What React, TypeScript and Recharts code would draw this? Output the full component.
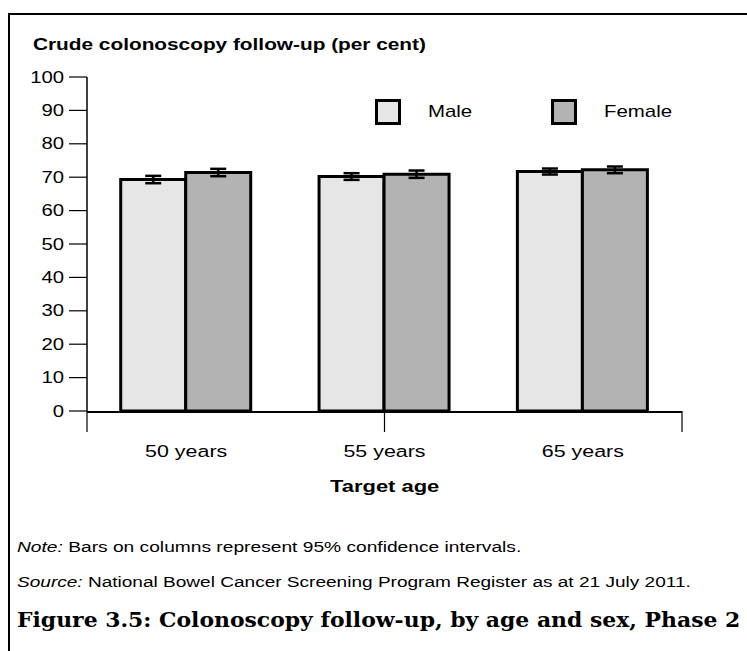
import { Bar, BarChart, ErrorBar, Legend, XAxis, YAxis } from 'recharts'

const categories = ['50 years', '55 years', '65 years']
const male = [69.3, 70.2, 71.7]
const female = [71.4, 70.9, 72.2]
const maleErr = [1.1, 1.0, 0.9]
const femaleErr = [1.1, 1.1, 1.0]
const yTicks = [0, 10, 20, 30, 40, 50, 60, 70, 80, 90, 100]
const boundaryTicks = [0, 1, 2, 3]

const data = categories.map((cat, i) => ({
	cat,
	male: male[i],
	female: female[i],
	maleErr: maleErr[i],
	femaleErr: femaleErr[i],
}))

const sans = '"Liberation Sans", Arial, sans-serif'

// the source figure is set in a wide face, so stretch Arial sideways
const stretch = (k: number) => ({ display: 'inline-block', transform: `scaleX(${k})`, transformOrigin: 'left center' })

const ScaledTick = (props: any) => {
	const { x, y, payload, textAnchor, dy, fontSize, k } = props
	return (
		<g transform={`translate(${x},${y})`}>
			<text
				transform={`scale(${k},1)`}
				textAnchor={textAnchor}
				dy={dy}
				fill="black"
				fontSize={fontSize}
				fontFamily={sans}
			>
				{payload.value}
			</text>
		</g>
	)
}

const LegendBox = () => {
	const items = [
		{ label: 'Male', fill: '#e6e6e6' },
		{ label: 'Female', fill: '#b3b3b3' },
	]
	return (
		<div style={{ display: 'flex', fontFamily: sans, fontSize: 17 }}>
			{items.map((it) => (
				<div key={it.label} style={{ display: 'flex', alignItems: 'center', width: 176, flexShrink: 0 }}>
					<span
						style={{
							display: 'inline-block',
							width: 20,
							height: 20,
							background: it.fill,
							border: '3px solid black',
							marginRight: 27,
						}}
					/>
					<span style={stretch(1.2)}>{it.label}</span>
				</div>
			))}
		</div>
	)
}

const App = () => {
	return (
		<div style={{ position: 'absolute', left: 0, top: 0, width: 747, height: 651, fontFamily: sans, background: 'white', overflow: 'hidden' }}>
			<div style={{ position: 'absolute', left: 8, top: 13, right: 0, bottom: 0, borderLeft: '2px solid black', borderTop: '2px solid black' }} />
			<div style={{ position: 'absolute', left: 33, top: 36, fontSize: 16, fontWeight: 'bold', whiteSpace: 'nowrap' }}>
				<span style={stretch(1.3)}>Crude colonoscopy follow-up (per cent)</span>
			</div>

			<div style={{ position: 'absolute', left: 0, top: 0 }}>
				<BarChart
					width={747}
					height={500}
					data={data}
					margin={{ top: 77, right: 65, left: 0, bottom: 0 }}
					barCategoryGap="17%"
					barGap={0}
				>
					<XAxis
						xAxisId="cat"
						dataKey="cat"
						height={88}
						tickLine={false}
						tickSize={0}
						tickMargin={33}
						axisLine={{ stroke: 'black', strokeWidth: 2 }}
						tick={<ScaledTick k={1.26} fontSize={17} dy="0.71em" />}
					/>
					<XAxis
						xAxisId="a"
						type="number"
						domain={[0, 3]}
						ticks={boundaryTicks}
						interval={0}
						tickFormatter={() => ''}
						axisLine={false}
						tickSize={21}
						height={1}
						tickLine={{ stroke: 'black', strokeWidth: 1.2 }}
					/>
					<YAxis
						width={87}
						domain={[0, 100]}
						ticks={yTicks}
						interval={0}
						tickSize={18}
						tickMargin={5}
						axisLine={{ stroke: 'black', strokeWidth: 1.5 }}
						tickLine={{ stroke: 'black', strokeWidth: 1.2 }}
						tick={<ScaledTick k={1.27} fontSize={16} dy="0.355em" />}
					/>
					<Legend
						layout="vertical"
						verticalAlign="middle"
						align="center"
						content={() => <LegendBox />}
						wrapperStyle={{ position: 'absolute', top: 99, left: 375, width: 400 }}
					/>
					<Bar xAxisId="cat" dataKey="male" name="Male" fill="#e6e6e6" stroke="black" strokeWidth={3} isAnimationActive={false}>
						<ErrorBar dataKey="maleErr" width={8} stroke="black" strokeWidth={2.5} isAnimationActive={false} />
					</Bar>
					<Bar xAxisId="cat" dataKey="female" name="Female" fill="#b3b3b3" stroke="black" strokeWidth={3} isAnimationActive={false}>
						<ErrorBar dataKey="femaleErr" width={8} stroke="black" strokeWidth={2.5} isAnimationActive={false} />
					</Bar>
				</BarChart>
			</div>

			<div style={{ position: 'absolute', left: 330, top: 477, fontSize: 17, fontWeight: 'bold', whiteSpace: 'nowrap' }}>
				<span style={stretch(1.29)}>Target age</span>
			</div>
			<div style={{ position: 'absolute', left: 17, top: 539, fontSize: 14, whiteSpace: 'nowrap' }}>
				<span style={stretch(1.37)}>
					<i>Note:</i> Bars on columns represent 95% confidence intervals.
				</span>
			</div>
			<div style={{ position: 'absolute', left: 17, top: 574, fontSize: 14, whiteSpace: 'nowrap' }}>
				<span style={stretch(1.36)}>
					<i>Source:</i> National Bowel Cancer Screening Program Register as at 21 July 2011.
				</span>
			</div>
			<div style={{ position: 'absolute', left: 17, top: 607, fontSize: 21, fontWeight: 'bold', fontFamily: '"DejaVu Serif", serif', whiteSpace: 'nowrap' }}>
				<span style={stretch(1.043)}>Figure 3.5: Colonoscopy follow-up, by age and sex, Phase 2</span>
			</div>
		</div>
	)
}

export default App
